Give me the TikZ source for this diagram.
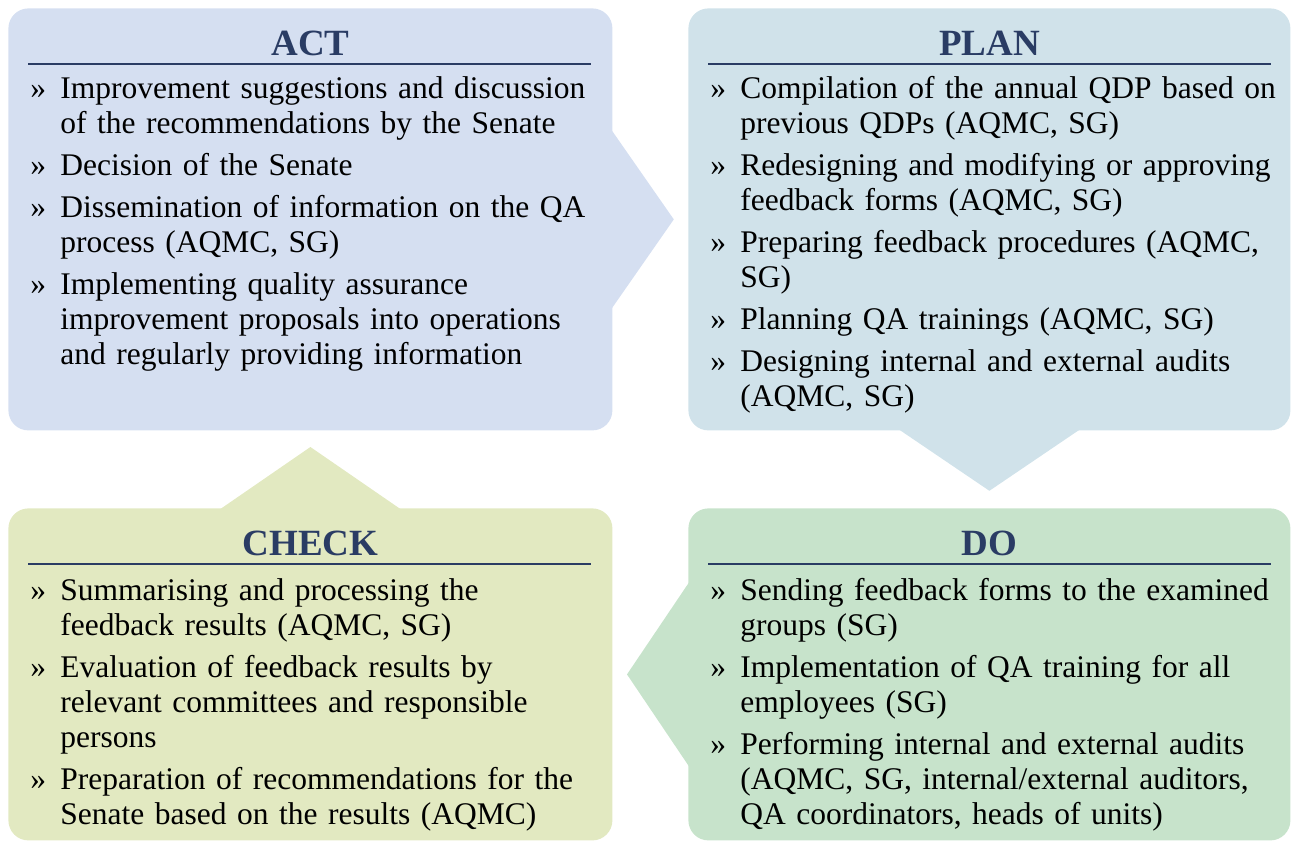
\documentclass[tikz,border=0pt]{standalone}
\usepackage{fontspec}
\setmainfont{Liberation Serif}
\usepackage{xcolor}
\usepackage{tikz}
\usetikzlibrary{calc}

\definecolor{actblue}{HTML}{D5DFF1}
\definecolor{planblue}{HTML}{D0E2EA}
\definecolor{checkgreen}{HTML}{E2E9C1}
\definecolor{dogreen}{HTML}{C7E3CB}
\definecolor{headnavy}{HTML}{2A3C64}

\newcommand{\pdcaitem}[1]{\par\hangindent=15pt\hangafter=1\noindent\makebox[15pt][l]{»}#1\par\vspace{3.5pt}}

\begin{document}
\begin{tikzpicture}[x=0.5pt,y=-0.5pt,
  phasebox/.style={rounded corners=10pt, inner sep=0pt, anchor=north west},
  phasehead/.style={anchor=base, text=headnavy, font=\fontsize{18.5}{20}\selectfont\bfseries},
  headrule/.style={draw=headnavy, line width=0.8pt},
  phaseitems/.style={anchor=base west, inner sep=0pt, text width=300pt, align=left,
    font=\fontsize{15.75}{17.5}\selectfont}]
\useasboundingbox (0,0) rectangle (1291,841);

% the four boxes
\node[phasebox, fill=actblue, minimum width=302pt, minimum height=211pt] (act) at (8,8) {};
\node[phasebox, fill=planblue, minimum width=301pt, minimum height=211pt] (plan) at (688,8) {};
\node[phasebox, fill=checkgreen, minimum width=302pt, minimum height=166pt] (check) at (8,508) {};
\node[phasebox, fill=dogreen, minimum width=301pt, minimum height=166pt] (do) at (688,508) {};

% arrow heads between the phases
\fill[actblue] ($(act.east)+(-1,-89)$) -- ($(act.east)+(61,0)$) -- ($(act.east)+(-1,89)$) -- cycle;
\fill[planblue] ($(plan.south)+(-90,-1)$) -- ($(plan.south)+(0,60)$) -- ($(plan.south)+(90,-1)$) -- cycle;
\fill[dogreen] ($(do.west)+(1,-92)$) -- ($(do.west)+(-61,0)$) -- ($(do.west)+(1,92)$) -- cycle;
\fill[checkgreen] ($(check.north)+(-90,1)$) -- ($(check.north)+(0,-61)$) -- ($(check.north)+(90,1)$) -- cycle;

% headings
\node[phasehead] (acthead) at ($(act.north)+(0,47)$) {ACT};
\node[phasehead] (planhead) at ($(plan.north)+(0,47)$) {PLAN};
\node[phasehead] (checkhead) at ($(check.north)+(0,47)$) {CHECK};
\node[phasehead] (dohead) at ($(do.north)+(0,47)$) {DO};
\draw[headrule] ($(act.north west)+(20,56)$) -- ($(act.north east)+(-22,56)$);
\draw[headrule] ($(plan.north west)+(20,56)$) -- ($(plan.north east)+(-20,56)$);
\draw[headrule] ($(check.north west)+(20,56)$) -- ($(check.north east)+(-22,56)$);
\draw[headrule] ($(do.north west)+(20,56)$) -- ($(do.north east)+(-20,56)$);

% item lists
\node[phaseitems] (actlist) at ($(act.north west)+(22,55)$) {%
\pdcaitem{Improvement suggestions and discussion\newline of the recommendations by the Senate}
\pdcaitem{Decision of the Senate}
\pdcaitem{Dissemination of information on the QA\newline process (AQMC, SG)}
\pdcaitem{Implementing quality assurance\newline improvement proposals into operations\newline and regularly providing information}};

\node[phaseitems] (planlist) at ($(plan.north west)+(22,55)$) {%
\pdcaitem{Compilation of the annual QDP based on\newline previous QDPs (AQMC, SG)}
\pdcaitem{Redesigning and modifying or approving\newline feedback forms (AQMC, SG)}
\pdcaitem{Preparing feedback procedures (AQMC,\newline SG)}
\pdcaitem{Planning QA trainings (AQMC, SG)}
\pdcaitem{Designing internal and external audits\newline (AQMC, SG)}};

\node[phaseitems] (checklist) at ($(check.north west)+(22,57)$) {%
\pdcaitem{Summarising and processing the\newline feedback results (AQMC, SG)}
\pdcaitem{Evaluation of feedback results by\newline relevant committees and responsible\newline persons}
\pdcaitem{Preparation of recommendations for the\newline Senate based on the results (AQMC)}};

\node[phaseitems] (dolist) at ($(do.north west)+(22,57)$) {%
\pdcaitem{Sending feedback forms to the examined\newline groups (SG)}
\pdcaitem{Implementation of QA training for all\newline employees (SG)}
\pdcaitem{Performing internal and external audits\newline (AQMC, SG, internal/external auditors,\newline QA coordinators, heads of units)}};
\end{tikzpicture}
\end{document}
